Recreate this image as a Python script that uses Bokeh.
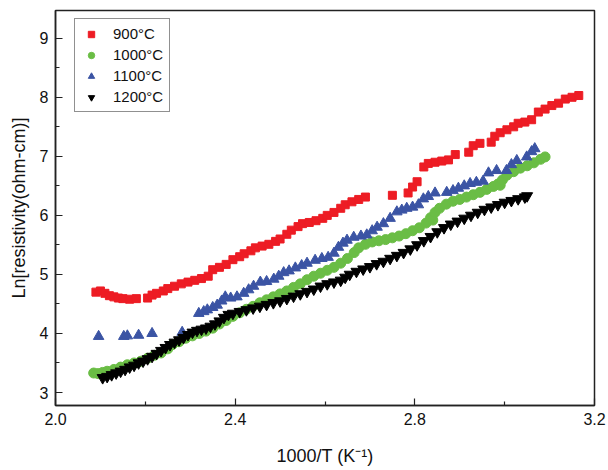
from bokeh.plotting import figure
from bokeh.models import Range1d, FixedTicker, Legend, LegendItem, PrintfTickFormatter
from bokeh.embed import file_html
from bokeh.resources import INLINE

# 900 C (red squares)
x900 = [2.09, 2.10, 2.11, 2.12, 2.13, 2.14, 2.15, 2.165, 2.18, 2.205, 2.215, 2.225, 2.24, 2.25,
        2.265, 2.28, 2.295, 2.31, 2.325, 2.34, 2.35, 2.365, 2.38, 2.395, 2.41, 2.42, 2.435, 2.445,
        2.46, 2.475, 2.49, 2.50, 2.515, 2.525, 2.54, 2.55, 2.565, 2.58, 2.595, 2.605, 2.62, 2.635,
        2.645, 2.66, 2.675, 2.69, 2.75, 2.785, 2.795, 2.805, 2.82, 2.83, 2.845, 2.86, 2.875, 2.89,
        2.92, 2.93, 2.945, 2.97, 2.978, 2.99, 3.005, 3.02, 3.03, 3.045, 3.06, 3.075, 3.09, 3.105,
        3.12, 3.135, 3.15, 3.165]
y900 = [4.70, 4.72, 4.68, 4.64, 4.62, 4.60, 4.59, 4.58, 4.59, 4.60, 4.65, 4.68, 4.72, 4.76,
        4.80, 4.84, 4.87, 4.90, 4.93, 4.97, 5.08, 5.12, 5.17, 5.25, 5.30, 5.35, 5.40, 5.45,
        5.48, 5.51, 5.56, 5.60, 5.68, 5.75, 5.81, 5.86, 5.88, 5.91, 5.95, 6.00, 6.05, 6.12,
        6.18, 6.23, 6.27, 6.31, 6.34, 6.38, 6.48, 6.57, 6.82, 6.88, 6.90, 6.92, 6.94, 7.03,
        7.07, 7.18, 7.22, 7.24, 7.34, 7.40, 7.45, 7.50, 7.56, 7.58, 7.62, 7.75, 7.80, 7.86,
        7.90, 7.97, 8.00, 8.03]

# 1000 C (green circles)
x1000 = [2.085, 2.095, 2.105, 2.115, 2.13, 2.145, 2.16, 2.175, 2.19, 2.205, 2.22, 2.235, 2.25,
         2.26, 2.275, 2.29, 2.305, 2.32, 2.335, 2.35, 2.365, 2.38, 2.395, 2.41, 2.425, 2.44,
         2.455, 2.47, 2.485, 2.50, 2.515, 2.53, 2.545, 2.56, 2.575, 2.59, 2.605, 2.62, 2.635,
         2.65, 2.665, 2.675, 2.69, 2.705, 2.72, 2.735, 2.75, 2.765, 2.78, 2.795, 2.81, 2.825,
         2.835, 2.84, 2.845, 2.855, 2.87, 2.885, 2.90, 2.915, 2.93, 2.945, 2.96, 2.975, 2.985,
         2.99, 2.995, 3.005, 3.02, 3.035, 3.05, 3.065, 3.08, 3.09]
y1000 = [3.33, 3.32, 3.34, 3.36, 3.39, 3.43, 3.47, 3.50, 3.53, 3.58, 3.63, 3.67, 3.74,
         3.81, 3.86, 3.92, 3.96, 4.00, 4.04, 4.09, 4.16, 4.22, 4.29, 4.35, 4.41, 4.46,
         4.52, 4.57, 4.62, 4.67, 4.72, 4.78, 4.84, 4.91, 4.97, 5.02, 5.07, 5.12, 5.19,
         5.27, 5.37, 5.45, 5.51, 5.55, 5.57, 5.59, 5.62, 5.65, 5.69, 5.74, 5.79, 5.87,
         5.96, 5.92, 6.05, 6.12, 6.19, 6.24, 6.27, 6.31, 6.35, 6.39, 6.44, 6.49, 6.53,
         6.51, 6.60, 6.68, 6.74, 6.80, 6.84, 6.89, 6.95, 6.99]

# 1100 C (blue triangles)
x1100 = [2.096, 2.152, 2.16, 2.185, 2.215, 2.282, 2.319, 2.33, 2.338, 2.35, 2.36, 2.37, 2.378,
         2.39, 2.404, 2.419, 2.43, 2.441, 2.456, 2.47, 2.486, 2.497, 2.508, 2.52, 2.534, 2.548,
         2.56, 2.578, 2.593, 2.607, 2.62, 2.63, 2.64, 2.649, 2.664, 2.68, 2.693, 2.705, 2.716,
         2.73, 2.745, 2.76, 2.771, 2.782, 2.795, 2.808, 2.819, 2.83, 2.845, 2.871, 2.885, 2.897,
         2.91, 2.923, 2.937, 2.952, 2.964, 2.982, 3.004, 3.015, 3.027, 3.049, 3.06, 3.067]
y1100 = [3.95, 3.95, 3.96, 3.97, 4.00, 4.02, 4.34, 4.37, 4.40, 4.44, 4.48, 4.55, 4.62,
         4.60, 4.62, 4.68, 4.74, 4.80, 4.87, 4.88, 4.92, 4.97, 5.03, 5.06, 5.11, 5.15,
         5.19, 5.24, 5.27, 5.29, 5.36, 5.46, 5.53, 5.58, 5.63, 5.65, 5.67, 5.74, 5.80,
         5.86, 5.95, 6.06, 6.09, 6.12, 6.14, 6.18, 6.28, 6.32, 6.38, 6.39, 6.42, 6.46,
         6.50, 6.54, 6.56, 6.58, 6.72, 6.76, 6.76, 6.86, 6.93, 6.99, 7.08, 7.13]

# 1200 C (black inverted triangles)
x1200 = [2.105, 2.115, 2.125, 2.135, 2.145, 2.155, 2.165, 2.175, 2.185, 2.195, 2.205, 2.215,
         2.225, 2.235, 2.245, 2.255, 2.265, 2.275, 2.285, 2.295, 2.305, 2.315, 2.325, 2.335,
         2.345, 2.355, 2.365, 2.375, 2.385, 2.395, 2.41, 2.425, 2.44, 2.455, 2.47, 2.485, 2.50,
         2.515, 2.53, 2.545, 2.56, 2.575, 2.59, 2.605, 2.62, 2.635, 2.645, 2.655, 2.67, 2.685,
         2.70, 2.715, 2.73, 2.745, 2.76, 2.775, 2.79, 2.805, 2.82, 2.835, 2.85, 2.865, 2.88,
         2.895, 2.91, 2.925, 2.94, 2.955, 2.97, 2.985, 3.00, 3.015, 3.03, 3.045, 3.05]
y1200 = [3.25, 3.27, 3.30, 3.33, 3.36, 3.39, 3.43, 3.46, 3.50, 3.53, 3.57, 3.61,
         3.66, 3.71, 3.76, 3.81, 3.85, 3.89, 3.93, 3.98, 4.02, 4.05, 4.07, 4.09,
         4.12, 4.16, 4.21, 4.27, 4.32, 4.34, 4.37, 4.40, 4.43, 4.46, 4.49, 4.52, 4.55,
         4.59, 4.63, 4.67, 4.71, 4.75, 4.80, 4.84, 4.87, 4.90, 4.95, 5.00, 5.05, 5.09,
         5.13, 5.18, 5.22, 5.27, 5.32, 5.37, 5.43, 5.50, 5.57, 5.64, 5.72, 5.79, 5.85,
         5.90, 5.95, 6.00, 6.05, 6.10, 6.14, 6.18, 6.22, 6.25, 6.28, 6.31, 6.33]

labels = ["900°C", "1000°C", "1100°C", "1200°C"]
x_ticks = [2.0, 2.4, 2.8, 3.2]
x_minor = [2.2, 2.6, 3.0]
y_ticks = [3, 4, 5, 6, 7, 8, 9]
y_minor = [3.5, 4.5, 5.5, 6.5, 7.5, 8.5, 9.5]

FONT = "Liberation Sans"
AX = "#222222"

p = figure(width=608, height=470, output_backend="svg", toolbar_location=None,
           x_range=Range1d(2.0, 3.2), y_range=Range1d(2.78, 9.47),
           min_border_left=55, min_border_right=14, min_border_top=10, min_border_bottom=65)
p.xgrid.visible = False
p.ygrid.visible = False
p.outline_line_color = AX
p.outline_line_width = 1.5
p.background_fill_color = "white"
p.border_fill_color = "white"

r1 = p.scatter(x900, y900, marker="square", size=8, color="#ED1C24")
r2 = p.scatter(x1000, y1000, marker="circle", size=10, color="#6ABD45")
r3 = p.scatter(x1100, y1100, marker="triangle", size=10.5, color="#3B54A4")
r4 = p.scatter(x1200, y1200, marker="inverted_triangle", size=11, color="black")

for ax in (p.xaxis[0], p.yaxis[0]):
    ax.axis_line_color = AX
    ax.axis_line_width = 1.5
    ax.major_tick_line_color = AX
    ax.minor_tick_line_color = AX
    ax.major_tick_line_width = 1.2
    ax.minor_tick_line_width = 1.2
    ax.major_tick_in = 7
    ax.major_tick_out = 0
    ax.minor_tick_in = 4
    ax.minor_tick_out = 0
    ax.major_label_text_font = FONT
    ax.major_label_text_font_size = "16px"
    ax.major_label_text_color = "#111111"
    ax.axis_label_text_font = FONT
    ax.axis_label_text_font_size = "18px"
    ax.axis_label_text_font_style = "normal"
    ax.axis_label_text_color = "#111111"

p.xaxis[0].ticker = FixedTicker(ticks=x_ticks, minor_ticks=x_minor)
p.yaxis[0].ticker = FixedTicker(ticks=y_ticks, minor_ticks=y_minor)
p.xaxis[0].formatter = PrintfTickFormatter(format="%.1f")
p.xaxis[0].axis_label = "1000/T (K⁻¹)"
p.yaxis[0].axis_label = "Ln[resistivity(ohm-cm)]"
p.xaxis[0].major_label_standoff = 7
p.xaxis[0].axis_label_standoff = 18
p.yaxis[0].major_label_standoff = 7
p.yaxis[0].axis_label_standoff = 8

legend = Legend(items=[LegendItem(label=labels[0], renderers=[r1]),
                       LegendItem(label=labels[1], renderers=[r2]),
                       LegendItem(label=labels[2], renderers=[r3]),
                       LegendItem(label=labels[3], renderers=[r4])],
                location=(19, 293))
legend.border_line_color = AX
legend.border_line_width = 1.2
legend.label_text_font = FONT
legend.label_text_font_size = "15px"
legend.label_text_color = "#111111"
legend.padding = 6
legend.spacing = 4
legend.glyph_height = 16
legend.label_height = 16
legend.glyph_width = 20
legend.label_standoff = 12
legend.margin = 0
p.add_layout(legend, "center")

open("out.html", "w").write(file_html(p, INLINE))
